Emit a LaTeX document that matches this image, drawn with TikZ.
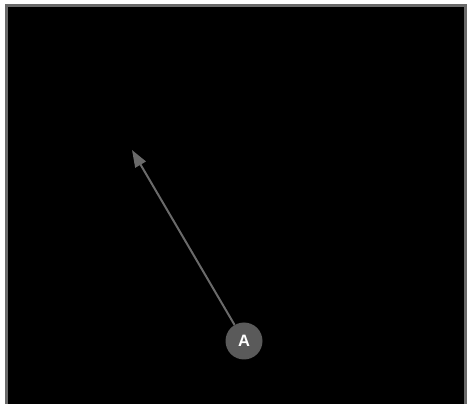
\documentclass[tikz,border=0pt]{standalone}
\usepackage{fontspec}
\setmainfont{Liberation Sans}
\usetikzlibrary{arrows.meta}
\definecolor{framegray}{HTML}{6A6A6A}
\definecolor{nodegray}{HTML}{5A5A5A}
\definecolor{arrowgray}{HTML}{6A6A6A}
\tikzset{
  markernode/.style={circle, fill=nodegray, minimum size=37pt, inner sep=0pt,
    text=white, font=\bfseries\fontsize{16.5}{16.5}\selectfont},
  pointer/.style={draw=arrowgray, line width=2pt, -{Triangle[length=17pt,width=12pt]}}
}
\begin{document}
\begin{tikzpicture}[x=1pt,y=-1pt]
\useasboundingbox (0,0) rectangle (467,404);
\fill[white] (0,0) rectangle (467,404);
\draw[framegray, fill=black, line width=3pt] (6,6) rectangle (465.5,410);
\node[markernode] (a) at (244,341) {A};
\coordinate (tip) at (132,150);
\draw[pointer] (a) -- (tip);
\end{tikzpicture}
\end{document}
